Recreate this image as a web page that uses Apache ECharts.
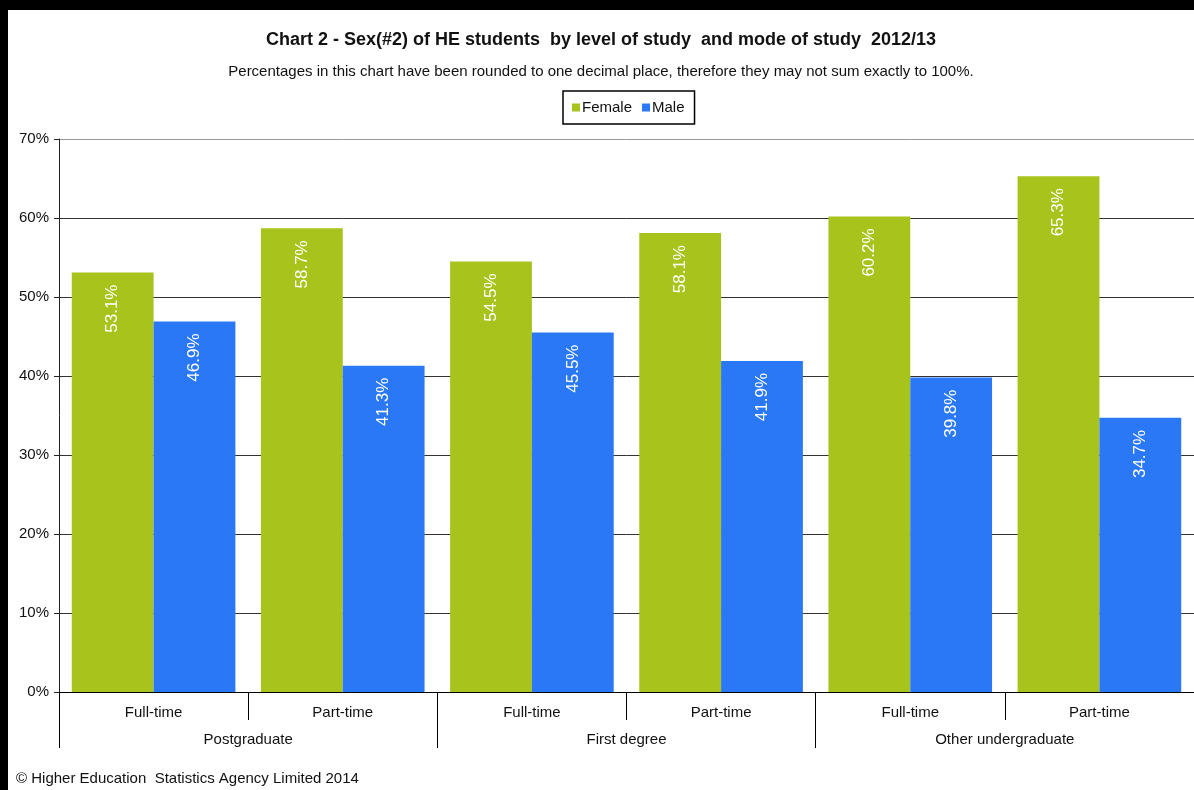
<!DOCTYPE html>
<html>
<head>
<meta charset="utf-8">
<script src="https://cdn.jsdelivr.net/npm/echarts@6/dist/echarts.min.js"></script>
<style>
  html, body { margin: 0; padding: 0; background: #000; }
  #bar { position: absolute; left: 8px; top: 10px; width: 1186px; height: 780px; background: #fff; }
</style>
</head>
<body>
<div id="bar"></div>
<script>
// data
var modes = ['Full-time', 'Part-time', 'Full-time', 'Part-time', 'Full-time', 'Part-time'];
var levels = ['Postgraduate', 'First degree', 'Other undergraduate'];
var female = [53.1, 58.7, 54.5, 58.1, 60.2, 65.3];
var male = [46.9, 41.3, 45.5, 41.9, 39.8, 34.7];

var font = 'Liberation Sans, Arial, sans-serif';
var myChart = echarts.init(document.getElementById('bar'));

var barLabel = {
  show: true,
  position: 'insideTop',
  rotate: 90,
  align: 'right',
  verticalAlign: 'middle',
  distance: 12,
  color: '#fff',
  fontFamily: font,
  fontSize: 17,
  formatter: function (p) { return p.value.toFixed(1) + '%'; }
};

var option = {
  animation: false,
  title: [{
    text: 'Chart 2 - Sex(#2) of HE students  by level of study  and mode of study  2012/13',
    left: 'center', top: 16,
    textStyle: { fontFamily: font, fontSize: 18, fontWeight: 'bold', color: '#111' }
  }, {
    text: 'Percentages in this chart have been rounded to one decimal place, therefore they may not sum exactly to 100%.',
    left: 'center', top: 49,
    textStyle: { fontFamily: font, fontSize: 15, fontWeight: 'normal', color: '#111' }
  }, {
    text: '© Higher Education  Statistics Agency Limited 2014',
    left: 3, top: 756,
    textStyle: { fontFamily: font, fontSize: 15, fontWeight: 'normal', color: '#111' }
  }],
  legend: {
    data: ['Female', 'Male'],
    left: 555, top: 81,
    borderColor: '#000', borderWidth: 1.5,
    padding: [9, 10, 9, 9],
    itemWidth: 8, itemHeight: 8, itemGap: 10,
    icon: 'rect',
    textStyle: { fontFamily: font, fontSize: 15, color: '#111', padding: [0, 0, 0, -3] }
  },
  grid: { left: 51, right: -2, top: 129, bottom: 98 },
  xAxis: [{
    type: 'category',
    data: modes,
    position: 'bottom',
    axisLine: { show: true, lineStyle: { color: '#000', width: 1 } },
    axisTick: { show: true, interval: 0, length: 28, lineStyle: { color: '#000' } },
    axisLabel: { margin: 13, fontFamily: font, fontSize: 15, color: '#111' }
  }, {
    type: 'category',
    data: levels,
    position: 'bottom',
    offset: 0,
    axisLine: { show: false },
    axisTick: { show: true, interval: 0, length: 56, lineStyle: { color: '#000' } },
    axisLabel: { margin: 40, fontFamily: font, fontSize: 15, color: '#111' }
  }],
  yAxis: {
    type: 'value',
    min: 0, max: 70, interval: 10,
    axisLine: { show: true, lineStyle: { color: '#222' } },
    axisTick: { show: true, length: 5, lineStyle: { color: '#222' } },
    axisLabel: { formatter: '{value}%', margin: 10, fontFamily: font, fontSize: 15, color: '#111' },
    splitLine: { lineStyle: { color: ['#333', '#333', '#333', '#333', '#333', '#333', '#333', '#999'], width: 1 } }
  },
  series: [{
    name: 'Female',
    type: 'bar',
    xAxisIndex: 0,
    data: female,
    barGap: '0%',
    barCategoryGap: '13.5%',
    itemStyle: { color: '#A7C31C' },
    label: barLabel
  }, {
    name: 'Male',
    type: 'bar',
    xAxisIndex: 0,
    data: male,
    itemStyle: { color: '#2B78F6' },
    label: barLabel
  }]
};

myChart.setOption(option);
</script>
</body>
</html>
